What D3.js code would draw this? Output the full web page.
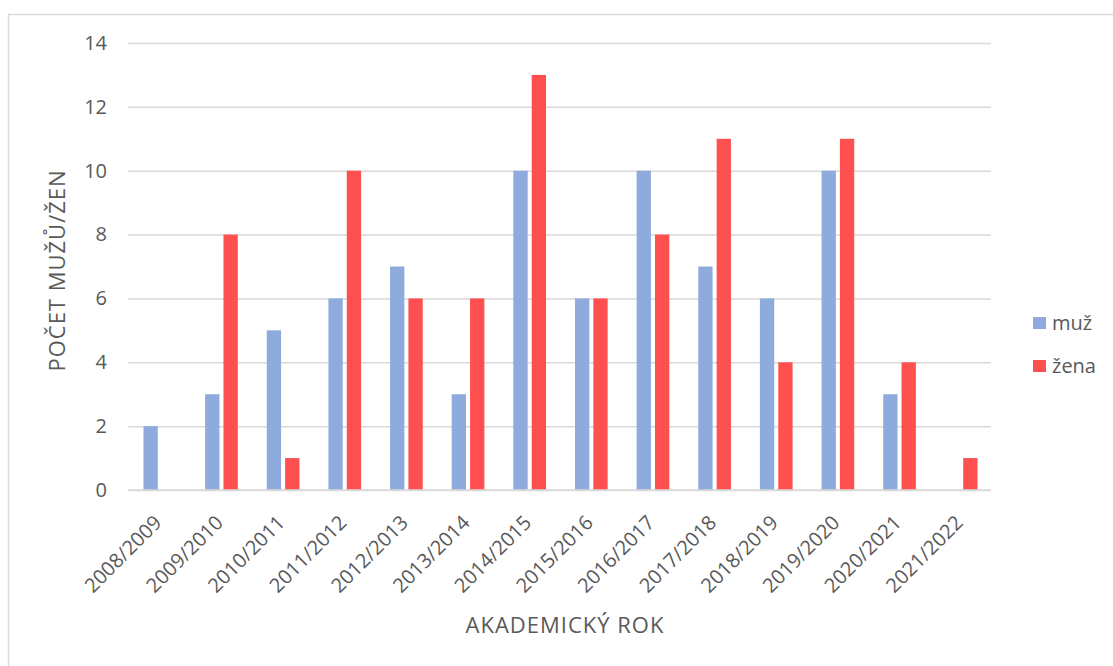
<!DOCTYPE html>
<html>
<head>
<meta charset="utf-8">
<script src="https://cdn.jsdelivr.net/npm/d3@7"></script>
<style>
  html, body { margin: 0; padding: 0; background: #fff; }
  svg { display: block; }
  text { font-family: "Open Sans", "Noto Sans", sans-serif; fill: #595959; }
</style>
</head>
<body>
<svg id="chart" width="1113" height="666"></svg>
<script>
const categories = ["2008/2009","2009/2010","2010/2011","2011/2012","2012/2013","2013/2014","2014/2015","2015/2016","2016/2017","2017/2018","2018/2019","2019/2020","2020/2021","2021/2022"];
const seriesNames = ["muž", "žena"];
const muz  = [2, 3, 5, 6, 7, 3, 10, 6, 10, 7, 6, 10, 3, 0];
const zena = [0, 8, 1, 10, 6, 6, 13, 6, 8, 11, 4, 11, 4, 1];
const yTicks = [0, 2, 4, 6, 8, 10, 12, 14];
const colors = ["#8FAADC", "#FF5050"];
const yTitle = "POČET MUŽŮ/ŽEN";
const xTitle = "AKADEMICKÝ ROK";

const svg = d3.select("#chart");
const plot = { left: 128, right: 991, top: 43, bottom: 490 };

// chart border
svg.append("rect")
  .attr("x", 8.5).attr("y", 14.5)
  .attr("width", 1200).attr("height", 700)
  .attr("fill", "none").attr("stroke", "#d9d9d9").attr("stroke-width", 1.5);

const x0 = d3.scaleBand().domain(categories)
  .range([plot.left, plot.right]).paddingInner(0.47).paddingOuter(0.235);
const x1 = d3.scaleBand().domain(seriesNames)
  .range([0, x0.bandwidth()]).paddingInner(0.22).paddingOuter(0);
const y = d3.scaleLinear().domain([0, 14]).range([plot.bottom, plot.top]);

// gridlines
const yAxis = d3.axisLeft(y).tickValues(yTicks).tickSize(-(plot.right - plot.left)).tickPadding(21);
const gy = svg.append("g").attr("transform", `translate(${plot.left},0)`).call(yAxis);
gy.select(".domain").remove();
gy.selectAll(".tick line").attr("stroke", "#d9d9d9").attr("stroke-width", 1.5);
gy.selectAll(".tick text").attr("font-size", 20).attr("fill", "#595959")
  .attr("font-family", "Open Sans, sans-serif");

// bars
const rows = categories.map((c, i) => ({ cat: c, vals: [muz[i], zena[i]] }));
const groups = svg.append("g").selectAll("g").data(rows).join("g")
  .attr("transform", d => `translate(${x0(d.cat) + 1},0)`);
groups.selectAll("rect")
  .data(d => d.vals.map((v, k) => ({ key: seriesNames[k], v, k })))
  .join("rect")
  .attr("x", d => x1(d.key))
  .attr("y", d => y(d.v))
  .attr("width", x1.bandwidth())
  .attr("height", d => y(0) - y(d.v))
  .attr("fill", d => colors[d.k]);

// x axis baseline
svg.append("line")
  .attr("x1", plot.left).attr("x2", plot.right)
  .attr("y1", y(0)).attr("y2", y(0))
  .attr("stroke", "#d9d9d9").attr("stroke-width", 1.5);

// x labels
const xAxis = d3.axisBottom(x0).tickSize(0).tickPadding(0);
const gx = svg.append("g").attr("transform", `translate(0,${plot.bottom})`).call(xAxis);
gx.select(".domain").remove();
gx.selectAll(".tick text")
  .attr("font-size", 20).attr("fill", "#595959")
  .attr("font-family", "Open Sans, sans-serif")
  .attr("text-anchor", "end")
  .attr("dy", null)
  .attr("y", 0)
  .attr("transform", "translate(4,34) rotate(-45)");

// axis titles
svg.append("text")
  .attr("transform", `translate(65,${(plot.top + plot.bottom) / 2 + 4}) rotate(-90)`)
  .attr("text-anchor", "middle")
  .attr("font-size", 22).attr("letter-spacing", 1)
  .text(yTitle);

svg.append("text")
  .attr("x", 565).attr("y", 633)
  .attr("text-anchor", "middle")
  .attr("font-size", 22).attr("letter-spacing", 1)
  .text(xTitle);

// legend
const legend = svg.append("g");
const ly = [317, 360];
seriesNames.forEach((name, k) => {
  legend.append("rect").attr("x", 1033).attr("y", ly[k])
    .attr("width", 13).attr("height", 12).attr("fill", colors[k]);
  legend.append("text").attr("x", 1052).attr("y", ly[k] + 13)
    .attr("font-size", 20).text(name);
});
</script>
</body>
</html>
